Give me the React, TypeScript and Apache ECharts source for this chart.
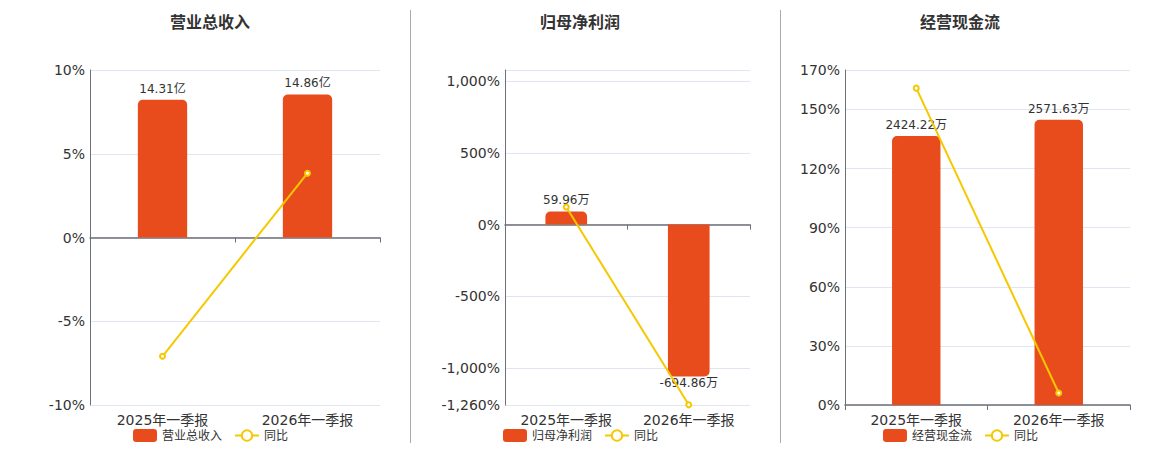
import React, { useEffect, useRef } from "react";
import * as echarts from "echarts";

const categories = ["2025年一季报", "2026年一季报"];

const revenue = [14.31, 14.86];
const revenueYoy = [-7.09, 3.84];

const netProfit = [59.96, -694.86];
const netProfitYoy = [123, -1258.9];

const cashFlow = [2424.22, 2571.63];
const cashFlowYoy = [160.8, 6.08];

const titles = ["营业总收入", "归母净利润", "经营现金流"];
const units = ["亿", "万", "万"];

const BAR = "#e84c1d";
const LINE = "#f5c800";
const FONT = "DejaVu Sans, Noto Sans CJK SC, sans-serif";

export default function App() {
  const ref = useRef<HTMLDivElement>(null);
  useEffect(() => {
    if (!ref.current) return;
    const chart = echarts.init(ref.current, undefined, { renderer: "svg" });

    const grids = [
      { left: 90, top: 70, width: 290, height: 335 },
      { left: 505, top: 70, width: 245, height: 335 },
      { left: 845, top: 70, width: 285, height: 335 },
    ];
    const centers = [210, 580, 960];
    const legendLefts = [133, 503, 883];

    const pctAxes = [
      { min: -10, max: 10, interval: 5 },
      { min: -1260, max: 1080, splitNumber: 5, showMaxLabel: false },
      { min: 0, max: 170, interval: 30 },
    ];
    const barAxes = [
      { min: -17.4, max: 17.4 },
      { min: -825, max: 707 },
      { min: 0, max: 3020 },
    ];
    const barData = [revenue, netProfit, cashFlow];
    const lineData = [revenueYoy, netProfitYoy, cashFlowYoy];

    const xAxis: any[] = [];
    const yAxis: any[] = [];
    const series: any[] = [];
    for (let i = 0; i < 3; i++) {
      xAxis.push({
        type: "category",
        gridIndex: i,
        data: categories,
        boundaryGap: true,
        axisLine: { show: true, onZero: true, lineStyle: { color: "#6E7079", width: 1.5 } },
        axisTick: { show: true, lineStyle: { color: "#6E7079" } },
        axisLabel: { fontSize: 14, color: "#333", fontFamily: FONT, margin: 8 },
      });
      const p: any = pctAxes[i];
      yAxis.push({
        type: "value",
        gridIndex: i,
        position: "left",
        min: p.min,
        max: p.max,
        interval: p.interval,
        splitNumber: p.splitNumber,
        axisLine: { show: true, lineStyle: { color: "#6E7079" } },
        axisTick: { show: false },
        splitLine: { show: true, lineStyle: { color: "#E0E6F1" } },
        axisLabel: {
          fontSize: 14,
          color: "#333",
          fontFamily: FONT,
          margin: 5,
          showMaxLabel: p.showMaxLabel === false ? false : undefined,
          formatter: (v: number) => v.toLocaleString("en-US") + "%",
        },
      });
      yAxis.push({
        type: "value",
        gridIndex: i,
        position: "right",
        min: barAxes[i].min,
        max: barAxes[i].max,
        show: false,
        splitLine: { show: false },
      });
      const unit = units[i];
      series.push({
        type: "bar",
        name: titles[i],
        xAxisIndex: i,
        yAxisIndex: i * 2 + 1,
        barWidth: "34%",
        itemStyle: { color: BAR },
        data: barData[i].map((v) => ({
          value: v,
          itemStyle: {
            color: BAR,
            borderRadius: v >= 0 ? [5, 5, 0, 0] : [0, 0, 5, 5],
          },
          label: {
            show: true,
            position: v >= 0 ? "top" : "bottom",
            distance: v >= 0 ? 5 : 0,
            fontSize: 12,
            color: "#333",
            fontFamily: FONT,
            formatter: () => v.toFixed(2) + unit,
          },
        })),
        z: 2,
      });
      series.push({
        type: "line",
        name: "同比",
        xAxisIndex: i,
        yAxisIndex: i * 2,
        data: lineData[i],
        symbol: "emptyCircle",
        symbolSize: 5,
        lineStyle: { color: LINE, width: 2 },
        itemStyle: { color: LINE, borderWidth: 1.5 },
        z: 3,
      });
    }

    chart.setOption({
      animation: false,
      textStyle: { fontFamily: FONT },
      title: titles.map((t, i) => ({
        text: t,
        left: centers[i],
        top: 14,
        padding: 0,
        textAlign: "center",
        textStyle: { fontSize: 16, fontWeight: "bold", color: "#333", fontFamily: FONT },
      })),
      legend: titles.map((t, i) => ({
        data: [{ name: t, icon: "roundRect" }, "同比"],
        left: legendLefts[i],
        top: 429,
        padding: 0,
        itemWidth: 24,
        itemHeight: 13,
        itemGap: 12,
        textStyle: { fontSize: 12, color: "#333", fontFamily: FONT },
      })),
      grid: grids.map((g) => ({ ...g, containLabel: false })),
      xAxis,
      yAxis,
      series,
      graphic: [
        { type: "line", shape: { x1: 410.5, y1: 10, x2: 410.5, y2: 443 }, style: { stroke: "#aaaaaa", lineWidth: 1 } },
        { type: "line", shape: { x1: 780.5, y1: 10, x2: 780.5, y2: 443 }, style: { stroke: "#aaaaaa", lineWidth: 1 } },
      ],
    });
    return () => chart.dispose();
  }, []);
  return (
    <div
      ref={ref}
      style={{ position: "fixed", left: 0, top: 0, width: 1160, height: 450, background: "#fff" }}
    />
  );
}
